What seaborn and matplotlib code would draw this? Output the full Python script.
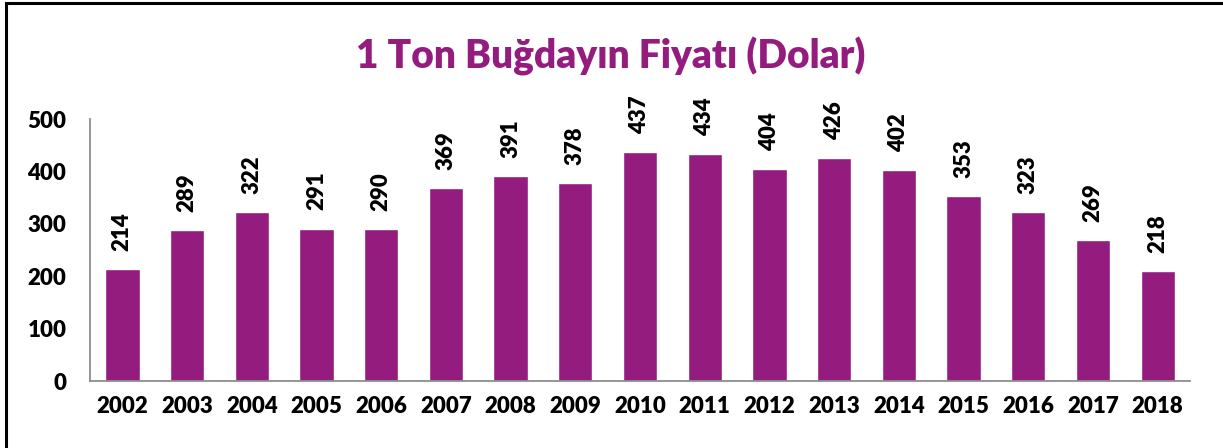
import pandas as pd
import matplotlib.pyplot as plt
import seaborn as sns
from matplotlib.patches import Rectangle

years = ['2002', '2003', '2004', '2005', '2006', '2007', '2008', '2009', '2010',
         '2011', '2012', '2013', '2014', '2015', '2016', '2017', '2018']
# bar heights as drawn in the picture
prices = [214, 289, 322, 291, 290, 369, 391, 378, 437, 434, 404, 426, 402, 353, 323, 269, 210]
# value labels printed above the bars
labels = ['214', '289', '322', '291', '290', '369', '391', '378', '437', '434', '404', '426',
          '402', '353', '323', '269', '218']

purple = '#941C7F'
df = pd.DataFrame({'yil': years, 'fiyat': prices})

sns.set_style('white')
plt.rcParams['font.family'] = ['Lato', 'DejaVu Sans']
plt.rcParams['text.color'] = 'black'
plt.rcParams['xtick.labelcolor'] = 'black'
plt.rcParams['ytick.labelcolor'] = 'black'

fig = plt.figure(figsize=(12.23, 4.48), dpi=100)
ax = fig.add_axes([90 / 1223, 67 / 448, 1100 / 1223, 262 / 448])

sns.barplot(x='yil', y='fiyat', data=df, color=purple, width=0.53, saturation=1, ax=ax)

for i, (v, lab) in enumerate(zip(prices, labels)):
    ax.annotate(lab, (i, v), xytext=(0, 13), textcoords='offset points', color='black',
                rotation=90, ha='center', va='bottom', fontsize=16, fontweight='heavy')

ax.set_ylim(0, 500)
ax.set_xlim(-0.5, len(years) - 0.5)
ax.set_yticks([0, 100, 200, 300, 400, 500])
ax.set_xticks([i - 0.5 for i in range(len(years) + 1)], minor=False)
ax.set_xticklabels([])
ax.set_xticks(range(len(years)), minor=True)
ax.set_xticklabels(years, minor=True)
ax.tick_params(axis='x', which='major', direction='out', length=7, width=1.3, color='#8c8c8c')
ax.tick_params(axis='x', which='minor', length=0, pad=11, labelsize=16, labelcolor='black')
ax.tick_params(axis='y', direction='out', length=7, width=1.3, color='#8c8c8c', pad=10,
               labelsize=16, labelcolor='black')
for t in ax.get_xticklabels(minor=True) + ax.get_yticklabels():
    t.set_fontweight('heavy')

for s in ['top', 'right']:
    ax.spines[s].set_visible(False)
for s in ['left', 'bottom']:
    ax.spines[s].set_color('#8c8c8c')
    ax.spines[s].set_linewidth(1.3)
ax.set_xlabel('')
ax.set_ylabel('')

fig.text(0.499, 0.875, '1 Ton Buğdayın Fiyatı (Dolar)', ha='center', va='center',
         fontsize=28, fontweight='heavy', color=purple)

# frame around the chart (only top and left edges visible)
fig.patches.append(Rectangle((6 / 1223, -0.1), 1.2, 0.1 + 444.5 / 448, transform=fig.transFigure,
                             fill=False, edgecolor='black', linewidth=2.2))

fig.savefig('out.png', dpi=100)
